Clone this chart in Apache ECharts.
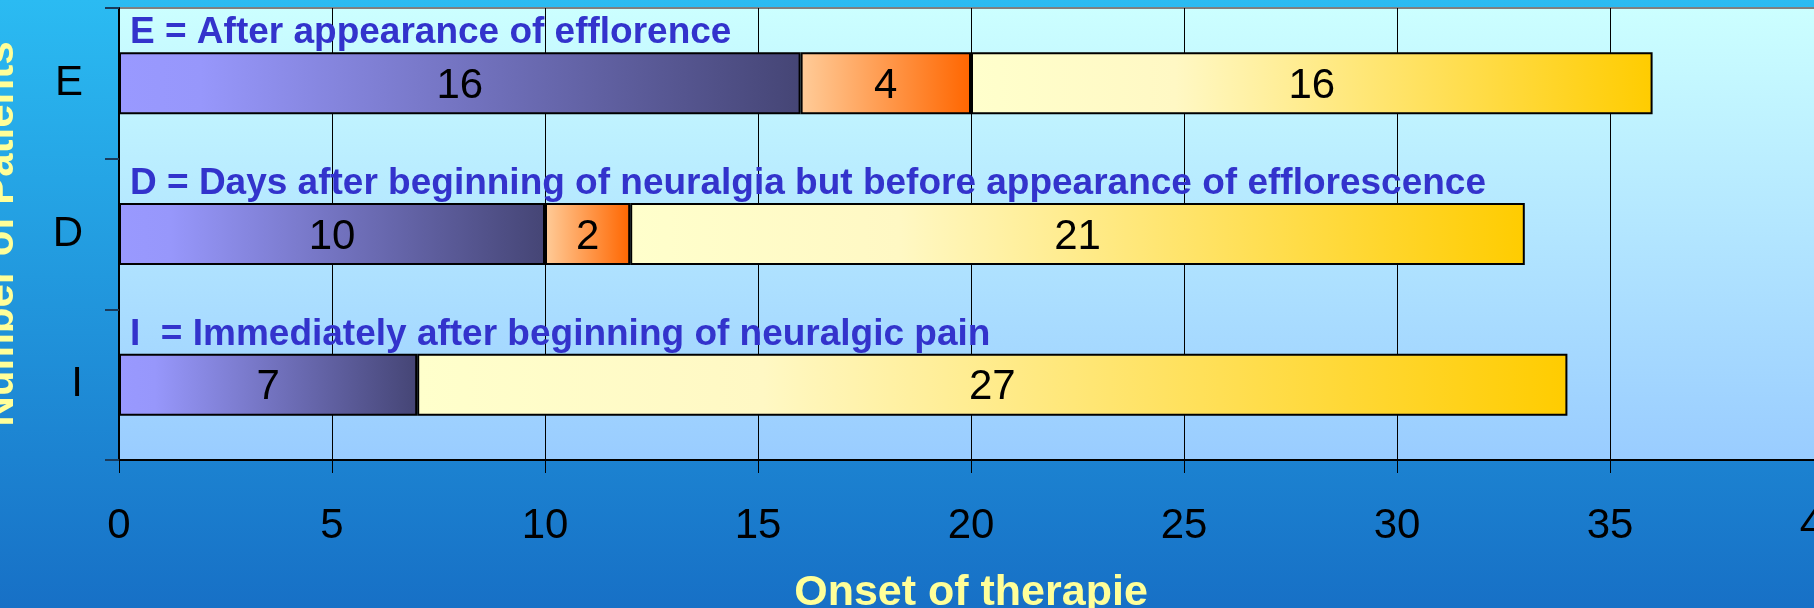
<!DOCTYPE html>
<html lang="en">
<head>
    <meta charset="UTF-8">
    <title>Onset of therapie</title>
    <script src="https://cdn.jsdelivr.net/npm/echarts@6/dist/echarts.min.js"></script>
    <style>
        html, body { margin: 0; padding: 0; }
        #main { width: 1814px; height: 608px; }
    </style>
</head>
<body>
    <div id="main"></div>
    <script type="text/javascript">
        // categories from bottom to top
        var categories = ['I', 'D', 'E'];
        var part1 = [7, 10, 16];
        var part2 = [null, 2, 4];
        var part3 = [27, 21, 16];
        var notes = [
            'I  = Immediately after beginning of neuralgic pain',
            'D = Days after beginning of neuralgia but before appearance of efflorescence',
            'E = After appearance of efflorence'
        ];
        var xTicks = { min: 0, max: 40, step: 5 };

        var font = 'Liberation Sans, Arial, sans-serif';
        var myChart = echarts.init(document.getElementById('main'));

        function grad(stops) {
            return new echarts.graphic.LinearGradient(0, 0, 1, 0, stops);
        }

        function barSeries(name, data, color) {
            return {
                name: name,
                type: 'bar',
                stack: 'total',
                barWidth: 62,
                data: data,
                itemStyle: { color: color, borderColor: '#000', borderWidth: 2 },
                label: {
                    show: true,
                    position: 'inside',
                    offset: [0, 3],
                    color: '#000',
                    fontSize: 42,
                    fontFamily: font
                }
            };
        }

        myChart.setOption({
            animation: false,
            backgroundColor: new echarts.graphic.LinearGradient(0, 0, 0, 1, [
                { offset: 0, color: '#2bbbf2' },
                { offset: 1, color: '#1770c6' }
            ]),
            grid: {
                left: 119, right: -9, top: 8, bottom: 148,
                containLabel: false,
                outerBoundsMode: 'none',
                show: true,
                borderColor: '#808080',
                borderWidth: 2,
                backgroundColor: new echarts.graphic.LinearGradient(0, 0, 0, 1, [
                    { offset: 0, color: '#ccffff' },
                    { offset: 1, color: '#99ccff' }
                ])
            },
            xAxis: {
                type: 'value',
                min: xTicks.min,
                max: xTicks.max,
                interval: xTicks.step,
                name: 'Onset of therapie',
                nameLocation: 'middle',
                nameGap: 112,
                nameTextStyle: { color: '#ffff99', fontSize: 43, fontWeight: 'bold', fontFamily: font },
                axisLine: { show: true, lineStyle: { color: '#000', width: 2 } },
                axisTick: { show: true, length: 13, lineStyle: { color: '#000', width: 1 } },
                axisLabel: { color: '#000', fontSize: 42, margin: 45, fontFamily: font },
                splitLine: { show: true, lineStyle: { color: '#000', width: 1 } }
            },
            yAxis: {
                type: 'category',
                data: categories,
                name: 'Number of Patients',
                nameLocation: 'middle',
                nameGap: 97,
                nameTextStyle: { color: '#ffff99', fontSize: 42, fontWeight: 'bold', fontFamily: font },
                axisLine: { show: true, lineStyle: { color: '#000', width: 2 } },
                axisTick: { show: true, length: 14, lineStyle: { color: '#1a3a5a', width: 2 } },
                axisLabel: { color: '#000', fontSize: 42, margin: 36, padding: [15, 0, 0, 0], fontFamily: font },
                splitLine: { show: false }
            },
            series: [
                barSeries('part1', part1, grad([
                    { offset: 0, color: '#9999ff' },
                    { offset: 0.12, color: '#9797fb' },
                    { offset: 1, color: '#454575' }
                ])),
                barSeries('part2', part2, grad([
                    { offset: 0, color: '#ffcc99' },
                    { offset: 1, color: '#ff6600' }
                ])),
                barSeries('part3', part3, grad([
                    { offset: 0, color: '#ffffcc' },
                    { offset: 0.3, color: '#fff8c4' },
                    { offset: 1, color: '#ffcc00' }
                ]))
            ]
        });

        // notes above each bar, placed from the category axis scale
        var bandH = Math.abs(myChart.convertToPixel({ yAxisIndex: 0 }, categories[0]) -
                             myChart.convertToPixel({ yAxisIndex: 0 }, categories[1]));
        var x0 = myChart.convertToPixel({ xAxisIndex: 0 }, 0);
        var texts = categories.map(function (c, i) {
            var cy = myChart.convertToPixel({ yAxisIndex: 0 }, c);
            return {
                type: 'text',
                z: 100,
                style: {
                    x: x0 + 11,
                    y: cy - bandH / 2 + 25,
                    text: notes[i],
                    fill: '#3333cc',
                    font: 'bold 37px ' + font,
                    verticalAlign: 'middle'
                }
            };
        });
        myChart.setOption({ graphic: texts });
    </script>
</body>
</html>
